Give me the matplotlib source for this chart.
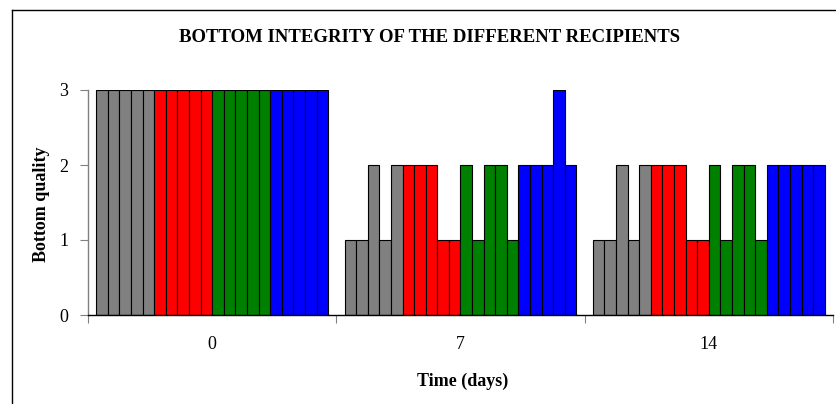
import matplotlib
matplotlib.use("Agg")
import matplotlib.pyplot as plt
from matplotlib.lines import Line2D

days = ["0", "7", "14"]
gray_vals = [[3, 3, 3, 3, 3], [1, 1, 2, 1, 2], [1, 1, 2, 1, 2]]
red_vals = [[3, 3, 3, 3, 3], [2, 2, 2, 1, 1], [2, 2, 2, 1, 1]]
green_vals = [[3, 3, 3, 3, 3], [2, 1, 2, 2, 1], [2, 1, 2, 2, 1]]
blue_vals = [[3, 3, 3, 3, 3], [2, 2, 2, 3, 2], [2, 2, 2, 2, 2]]
series_colors = ["#808080", "#FF0000", "#008000", "#0000FF"]
y_ticks = [0, 1, 2, 3]

W, H = 837, 404
fig = plt.figure(figsize=(W / 100, H / 100), dpi=100)
plt.rcParams["font.family"] = ["Liberation Serif", "DejaVu Serif"]

ax = fig.add_axes([88 / W, (H - 315) / H, 745 / W, (315 - 90) / H])

all_series = [gray_vals, red_vals, green_vals, blue_vals]
n_per = 5
n_total = n_per * len(all_series)
span = 0.934
bw = span / n_total
offset = (1 - span) / 2
for g in range(len(days)):
    k = 0
    for s, col in zip(all_series, series_colors):
        for v in s[g]:
            x = g + offset + bw * (k + 0.5)
            ax.bar(x, v, width=bw, color=col, edgecolor="black", linewidth=0.8)
            k += 1

ax.set_xlim(0, len(days))
ax.set_ylim(0, 3)
ax.set_yticks(y_ticks)
ax.set_yticklabels([str(t) for t in y_ticks], fontsize=13)
ax.set_xticks([i for i in range(len(days) + 1)])
ax.set_xticklabels([])
ax.set_xticks([i + 0.5 for i in range(len(days))], minor=True)
ax.set_xticklabels(days, minor=True, fontsize=13)
ax.tick_params(axis="x", which="minor", length=0, pad=15)
ax.tick_params(axis="x", which="major", length=6, color="#808080", direction="out")
ax.tick_params(axis="y", length=6, color="#808080", direction="out", pad=8)
for sp in ["top", "right"]:
    ax.spines[sp].set_visible(False)
ax.spines["left"].set_color("#808080")
ax.spines["bottom"].set_color("black")
ax.spines["left"].set_linewidth(1)
ax.spines["bottom"].set_linewidth(1)

fig.text(430 / W, 1 - 37 / H, "BOTTOM INTEGRITY OF THE DIFFERENT RECIPIENTS",
         ha="center", va="center", fontsize=13.5, fontweight="bold")
fig.text(42 / W, 1 - 204 / H, "Bottom quality", rotation=90,
         ha="center", va="center", fontsize=13, fontweight="bold")
fig.text(463 / W, 1 - 381 / H, "Time (days)",
         ha="center", va="center", fontsize=13, fontweight="bold")

# chart border (left and top edges visible)
fig.add_artist(Line2D([12.5 / W, 12.5 / W], [0, 1 - 10 / H], transform=fig.transFigure,
                      color="black", linewidth=1))
fig.add_artist(Line2D([12.5 / W, 1], [1 - 10 / H, 1 - 10 / H], transform=fig.transFigure,
                      color="black", linewidth=1))

fig.savefig("out.png", dpi=100)
